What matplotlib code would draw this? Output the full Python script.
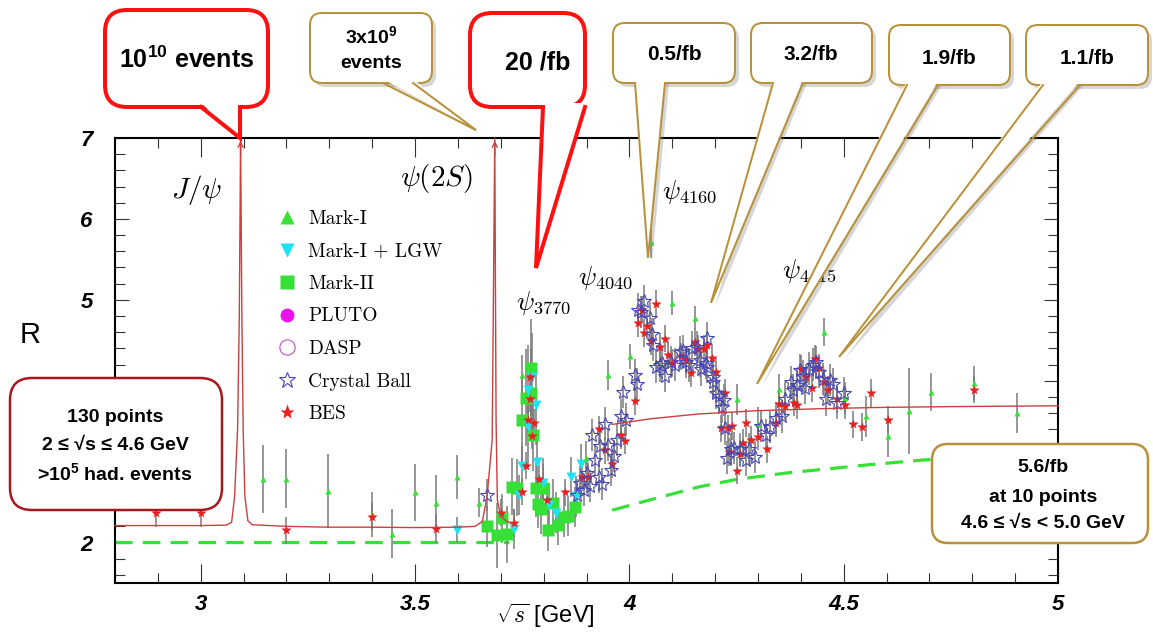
import numpy as np
import matplotlib
matplotlib.use('Agg')
import matplotlib.pyplot as plt
from matplotlib.patches import FancyBboxPatch, Polygon
from matplotlib.lines import Line2D
from matplotlib.transforms import Affine2D
from matplotlib.font_manager import FontProperties
import matplotlib.ticker as mticker

# ---------------- data ----------------
nan = np.nan
theory_x = [2.80, 2.90, 3.00, 3.06, 3.072, 3.079, 3.086, 3.090, 3.093, 3.096, 3.099, 3.103, 3.110, 3.12,
            3.20, 3.30, 3.40, 3.50, 3.60, 3.64, 3.657, 3.668, 3.680, 3.686, 3.689, 3.692, 3.700, 3.715, 3.727,
            nan, 3.96, 4.05, 4.164, 4.30, 4.45, 4.584, 4.75, 5.00]
theory_R = [2.21, 2.21, 2.21, 2.215, 2.25, 2.57, 3.40, 4.80, 7.00, 4.80, 3.40, 2.57, 2.27, 2.22,
            2.20, 2.19, 2.19, 2.185, 2.19, 2.20, 2.26, 2.57, 3.27, 7.00, 3.52, 2.53, 2.32, 2.26, 2.23,
            nan, 3.46, 3.53, 3.59, 3.63, 3.655, 3.67, 3.68, 3.69]

pqcd_x = [2.80, 3.72, nan, 3.96, 4.05, 4.164, 4.25, 4.367, 4.556, 4.685, 5.00]
pqcd_R = [2.00, 2.00, nan, 2.40, 2.53, 2.69, 2.78, 2.86, 2.96, 3.02, 3.12]

markI_x = [3.145, 3.198, 3.297, 3.400, 3.447, 3.500, 3.550, 3.598, 3.650, 3.750, 3.900, 3.949, 4.002,
           4.051, 4.100, 4.152, 4.250, 4.300, 4.350, 4.453, 4.502, 4.551, 4.603, 4.652, 4.703, 4.804, 4.904]
markI_R = [2.79, 2.79, 2.64, 2.35, 2.11, 2.62, 2.49, 2.81, 2.49, 4.07, 3.05, 4.07, 4.30,
           5.72, 4.96, 4.78, 3.77, 3.47, 3.90, 4.60, 3.79, 3.56, 3.32, 3.63, 3.86, 3.97, 3.60]
markI_err = [0.42, 0.36, 0.46, 0.28, 0.30, 0.35, 0.34, 0.27, 0.18, 0.25, 0.20, 0.19, 0.15,
             0.20, 0.15, 0.14, 0.19, 0.20, 0.18, 0.17, 0.20, 0.25, 0.26, 0.53, 0.23, 0.21, 0.25]

lgw_x = [3.598, 3.730, 3.743, 3.750, 3.764, 3.764, 3.773, 3.782, 3.785, 3.799, 3.813, 3.829, 3.864, 3.876, 3.888]
lgw_R = [2.16, 2.17, 2.59, 2.94, 3.89, 3.44, 4.04, 3.70, 2.99, 2.74, 2.47, 2.37, 2.81, 2.57, 2.97]
lgw_err = [0.15, 0.25, 0.25, 0.25, 0.55, 0.50, 0.55, 0.50, 0.30, 0.30, 0.25, 0.25, 0.25, 0.25, 0.25]

markII_x = [3.668, 3.692, 3.703, 3.715, 3.726, 3.738, 3.750, 3.759, 3.771, 3.771, 3.776, 3.782, 3.787,
            3.794, 3.799, 3.810, 3.822, 3.834, 3.848, 3.857, 3.874]
markII_R = [2.20, 2.09, 2.30, 2.10, 2.69, 2.68, 3.52, 3.79, 4.16, 3.85, 3.33, 2.67, 2.48,
            2.41, 2.67, 2.15, 2.49, 2.22, 2.32, 2.33, 2.44]
markII_err = [0.25, 0.40, 0.30, 0.35, 0.35, 0.35, 0.55, 0.60, 0.60, 0.55, 0.45, 0.35, 0.30,
              0.30, 0.30, 0.25, 0.30, 0.25, 0.25, 0.25, 0.25]

pluto_x, pluto_R = [], []
dasp_x, dasp_R = [], []

cb_x = [3.668, 3.879, 3.886, 3.895, 3.902, 3.909, 3.913, 3.920, 3.928, 3.932, 3.937, 3.944, 3.949, 3.958,
        3.963, 3.970, 3.981, 3.986, 3.993, 4.012, 4.017, 4.021, 4.028, 4.035, 4.047, 4.053, 4.056, 4.063,
        4.072, 4.077, 4.084, 4.098, 4.107, 4.117, 4.124, 4.133, 4.138, 4.147, 4.157, 4.164, 4.168, 4.178,
        4.180, 4.182, 4.194, 4.196, 4.203, 4.208, 4.215, 4.220, 4.224, 4.227, 4.238, 4.245, 4.257, 4.273,
        4.278, 4.292, 4.308, 4.318, 4.329, 4.341, 4.355, 4.364, 4.376, 4.381, 4.390, 4.397, 4.404, 4.409,
        4.420, 4.428, 4.436, 4.442, 4.451, 4.458, 4.467, 4.474, 4.484, 4.500]
cb_R = [2.59, 2.59, 2.74, 2.65, 2.86, 2.70, 3.33, 3.02, 2.81, 3.19, 2.72, 3.47, 3.21, 2.90,
        3.07, 3.27, 3.57, 3.86, 3.52, 4.07, 3.96, 4.88, 4.85, 4.98, 4.77, 4.58, 4.44, 4.17,
        4.19, 4.22, 4.06, 4.23, 4.20, 4.35, 4.37, 4.23, 4.19, 4.41, 4.42, 4.25, 4.14, 4.22,
        4.17, 4.53, 4.04, 3.98, 3.85, 3.81, 3.68, 3.76, 3.41, 3.05, 3.15, 3.17, 3.15, 3.02,
        3.16, 3.06, 3.44, 3.33, 3.43, 3.54, 3.56, 3.78, 3.98, 3.88, 3.95, 4.13, 4.06, 3.91,
        4.15, 4.20, 4.23, 4.11, 4.02, 3.77, 4.01, 3.96, 3.73, 3.85]

bes_x = [2.895, 3.000, 3.200, 3.400, 3.550, 3.700, 3.730, 3.750, 3.760, 3.764, 3.769, 3.769, 3.773, 3.778,
         3.790, 3.808, 3.850, 3.890, 3.904, 3.930, 3.942, 3.960, 3.981, 3.990, 4.012, 4.019, 4.030, 4.035,
         4.042, 4.051, 4.061, 4.072, 4.082, 4.089, 4.100, 4.121, 4.131, 4.143, 4.152, 4.161, 4.173, 4.180,
         4.192, 4.201, 4.213, 4.222, 4.231, 4.232, 4.240, 4.250, 4.257, 4.266, 4.271, 4.283, 4.300, 4.322,
         4.341, 4.350, 4.362, 4.383, 4.390, 4.400, 4.413, 4.425, 4.432, 4.442, 4.453, 4.463, 4.484, 4.502,
         4.521, 4.542, 4.563, 4.603, 4.804]
bes_R = [2.36, 2.36, 2.15, 2.32, 2.17, 2.37, 2.24, 2.63, 2.95, 3.52, 3.78, 4.05, 3.32, 3.48,
         2.79, 2.53, 2.62, 2.81, 2.81, 3.40, 3.14, 2.97, 3.33, 3.26, 3.75, 4.71, 4.88, 4.59,
         4.68, 4.49, 4.95, 4.42, 4.52, 4.32, 4.22, 4.30, 4.25, 4.09, 4.48, 4.39, 4.39, 4.44,
         4.28, 4.11, 3.41, 3.85, 3.41, 3.12, 3.44, 2.89, 3.10, 3.23, 3.48, 3.27, 3.31, 3.15,
         3.48, 3.71, 3.69, 3.73, 3.70, 4.15, 4.04, 3.91, 4.27, 4.16, 3.98, 3.89, 3.77, 3.70,
         3.46, 3.43, 3.85, 3.52, 3.89]

x_ticks = [3, 3.5, 4, 4.5, 5]
x_ticklabels = ['3', '3.5', '4', '4.5', '5']
y_ticks = [2, 3, 4, 5, 6, 7]
# labels 3 and 4 are hidden behind the "130 points" box in the reference
y_ticklabels = ['2', '', '', '5', '6', '7']

legend_labels = ['Mark-I', 'Mark-I + LGW', 'Mark-II', 'PLUTO', 'DASP', 'Crystal Ball', 'BES']

# ---------------- style ----------------
plt.rcParams['mathtext.fontset'] = 'custom'
plt.rcParams['mathtext.rm'] = 'Liberation Sans:bold'
plt.rcParams['mathtext.it'] = 'Liberation Sans:bold:italic'
plt.rcParams['mathtext.bf'] = 'Liberation Sans:bold'

GREEN = '#36e036'
CYAN = '#1fe3f2'
MAG = '#ee11ee'
BLUE = '#4646b4'
RED = '#e82020'
THRED = '#c84040'
GOLD = '#b8923a'
ERR = '#7a7a7a'

W, H = 1153, 634
fig = plt.figure(figsize=(W / 100, H / 100), dpi=100)
ax = fig.add_axes([115 / W, 1 - 583 / H, (1058 - 115) / W, (583 - 138) / H])
PX = Affine2D().scale(1 / W, -1 / H).translate(0, 1) + fig.transFigure

ax.set_xlim(2.8, 5.0)
ax.set_ylim(1.5, 7.0)

# curves
ax.plot(pqcd_x, pqcd_R, color=GREEN, lw=2.3, dashes=(5.5, 3.2), zorder=2)
ax.plot(theory_x, theory_R, color=THRED, lw=1.0, zorder=5, clip_on=False)
tx = np.array(theory_x)
tR = np.array(theory_R)
for px_peak in tx[np.where(tR >= 7.0)]:
    ax.annotate('', xy=(px_peak, 7.0), xytext=(px_peak, 6.75),
                arrowprops=dict(arrowstyle='->', color=THRED, lw=1.0, mutation_scale=9),
                annotation_clip=False, zorder=6)

# error bars
eb = dict(fmt='none', ecolor=ERR, elinewidth=1.1, capsize=0, zorder=3)
ax.errorbar(markI_x, markI_R, yerr=markI_err, **eb)
ax.errorbar(lgw_x, lgw_R, yerr=lgw_err, **eb)
ax.errorbar(markII_x, markII_R, yerr=markII_err, **eb)
ax.errorbar(cb_x, cb_R, yerr=0.2, **eb)
ax.errorbar(bes_x, bes_R, yerr=0.17, **eb)

# markers
ax.plot(markII_x, markII_R, 's', color=GREEN, ms=9, mec='none', zorder=4)
ax.plot(lgw_x, lgw_R, 'v', color=CYAN, ms=7.5, mec='none', zorder=4)
ax.plot(markI_x, markI_R, '^', color=GREEN, ms=4.5, mec='none', zorder=4)
ax.plot(pluto_x, pluto_R, 'o', color=MAG, ms=7, zorder=4)
ax.plot(dasp_x, dasp_R, 'o', mfc='none', mec='#c050c0', ms=7, zorder=4)
ax.plot(bes_x, bes_R, '*', color=RED, ms=7.5, mec='none', zorder=4)
ax.plot(cb_x, cb_R, '*', mfc='none', mec=BLUE, mew=0.8, ms=10.5, zorder=4.5)

# axes styling
for s in ax.spines.values():
    s.set_linewidth(1.5)
ax.set_xticks(x_ticks)
ax.set_xticklabels(x_ticklabels)
ax.set_yticks(y_ticks)
ax.set_yticklabels(y_ticklabels)
ax.xaxis.set_minor_locator(mticker.MultipleLocator(0.1))
ax.yaxis.set_minor_locator(mticker.MultipleLocator(0.2))
ax.tick_params(which='both', direction='in', top=True, right=True, width=0.8, color='#333333')
ax.tick_params(axis='x', which='major', length=14, pad=8)
ax.tick_params(axis='y', which='major', length=10, pad=16)
ax.tick_params(which='minor', length=7)
tfp = FontProperties(family='Liberation Sans', weight='bold', style='italic', size=16)
for lab in ax.get_xticklabels() + ax.get_yticklabels():
    lab.set_fontproperties(tfp)

fig.text(30, 335, 'R', transform=PX, ha='center', va='center', fontsize=21,
         family='Liberation Sans')
fig.text(545, 616, r'$\sqrt{s}$ [GeV]', transform=PX, ha='center', va='center', fontsize=17,
         family='Liberation Sans', math_fontfamily='cm')

# resonance labels
res_kw = dict(ha='center', va='center', math_fontfamily='cm', zorder=7)
ax.text(2.99, 6.36, r'$J/\psi$', fontsize=21, **res_kw)
ax.text(3.55, 6.50, r'$\psi(2S)$', fontsize=21, **res_kw)
ax.text(3.80, 4.96, r'$\psi_{3770}$', fontsize=19, **res_kw)
ax.text(3.945, 5.27, r'$\psi_{4040}$', fontsize=19, **res_kw)
ax.text(4.14, 6.33, r'$\psi_{4160}$', fontsize=19, **res_kw)
ax.text(4.42, 5.35, r'$\psi_{4415}$', fontsize=19, **res_kw)

# legend
handles = [Line2D([], [], marker='^', ls='none', color=GREEN, ms=10, mec='none'),
           Line2D([], [], marker='v', ls='none', color=CYAN, ms=10, mec='none'),
           Line2D([], [], marker='s', ls='none', color=GREEN, ms=10, mec='none'),
           Line2D([], [], marker='o', ls='none', color=MAG, ms=10, mec='none'),
           Line2D([], [], marker='o', ls='none', mfc='none', mec='#c050c0', mew=0.8, ms=11),
           Line2D([], [], marker='*', ls='none', mfc='none', mec=BLUE, mew=0.8, ms=12),
           Line2D([], [], marker='*', ls='none', color=RED, mec='none', ms=11)]
leg = ax.legend(handles, legend_labels, loc='upper left', bbox_to_anchor=(277, 210), bbox_transform=PX,
                frameon=False, prop=FontProperties(family=['cmr10', 'DejaVu Serif'], size=14),
                handlelength=1.0, handletextpad=0.6, labelspacing=0.75, borderpad=0, borderaxespad=0)
leg.set_zorder(8)


# ---------------- callouts ----------------
def callout(x0, y0, x1, y1, base, tip, ec, lwpx, r, shadow=False, z=20):
    lw = lwpx * 0.72
    style = f'round,pad=0,rounding_size={r}'
    if shadow:
        o = 4
        fig.add_artist(FancyBboxPatch((x0 + o, y0 + o), x1 - x0, y1 - y0, boxstyle=style, transform=PX,
                                      fc='#7a7a7a', ec='none', alpha=0.3, zorder=z - 1))
        fig.add_artist(Polygon([(base[0] + o, y1), (base[1] + o, y1), (tip[0] + o, tip[1] + o)],
                               closed=True, transform=PX, fc='#7a7a7a', ec='none', alpha=0.3, zorder=z - 1))
    fig.add_artist(FancyBboxPatch((x0, y0), x1 - x0, y1 - y0, boxstyle=style, transform=PX,
                                  fc='white', ec=ec, lw=lw, zorder=z))
    if base is not None:
        fig.add_artist(Polygon([(base[0], y1 - 4), (base[1], y1 - 4), tip], closed=True, transform=PX,
                               fc='white', ec='none', zorder=z + 0.1))
        fig.add_artist(Line2D([base[0], tip[0], base[1]], [y1, tip[1], y1], transform=PX, color=ec,
                              lw=lw, zorder=z + 0.2, solid_joinstyle='miter'))


def ctext(x, y, s, size, z=21):
    fig.text(x, y, s, transform=PX, ha='center', va='center', fontsize=size, fontweight='bold',
             family=['Liberation Sans', 'DejaVu Sans'], zorder=z)


callout(105, 10, 268, 107, (201, 240), (240, 138), '#ff1010', 4, 22)
ctext(187, 60, r'10$^{10}$ events', 18)

callout(310, 13, 432, 83, (383, 413), (476, 130), GOLD, 2, 12, shadow=True)
ctext(371, 36, r'3x10$^{9}$', 14)
ctext(371, 63, 'events', 14)

callout(470, 13, 585, 107, (543, 585), (536, 268), '#ff1010', 4, 22)
ctext(538, 62, '20 /fb', 18)

callout(613, 23, 735, 83, (635, 665), (648, 258), GOLD, 2, 12, shadow=True)
ctext(674, 55, '0.5/fb', 15)
callout(751, 23, 872, 83, (773, 803), (711, 303), GOLD, 2, 12, shadow=True)
ctext(811, 55, '3.2/fb', 15)
callout(889, 25, 1010, 85, (907, 938), (757, 384), GOLD, 2, 12, shadow=True)
ctext(949, 58, '1.9/fb', 15)
callout(1026, 25, 1148, 85, (1043, 1080), (839, 357), GOLD, 2, 12, shadow=True)
ctext(1087, 58, '1.1/fb', 15)

callout(10, 378, 222, 510, None, None, '#a8181c', 2.5, 22)
ctext(115, 418, '130 points', 14)
ctext(115, 446, '2 ≤ √s ≤ 4.6 GeV', 14)
ctext(115, 473, r'>10$^{5}$ had. events', 14)

callout(932, 444, 1148, 543, None, None, GOLD, 2.5, 16)
ctext(1043, 468, '5.6/fb', 14)
ctext(1043, 497, 'at 10 points', 14)
ctext(1043, 523, '4.6 ≤ √s < 5.0 GeV', 14)

fig.savefig('out.png', dpi=100)
